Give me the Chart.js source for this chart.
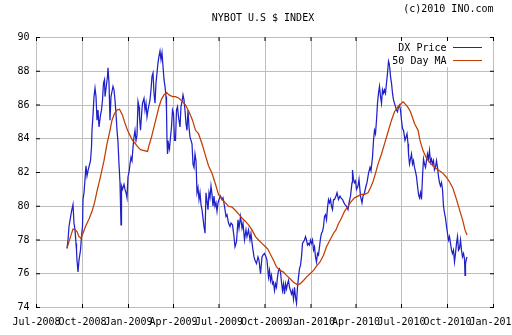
<!DOCTYPE html>
<html>
<head>
<meta charset="utf-8">
<title>NYBOT U.S $ INDEX</title>
<script src="https://cdn.jsdelivr.net/npm/chart.js@4/dist/chart.umd.min.js"></script>
<style>
    html, body { margin: 0; padding: 0; background: #fff; }
</style>
</head>
<body>
<canvas id="myChart" width="512" height="335"></canvas>
<script>
"use strict";

// quarter marks on the time axis
const tickDates = ['2008-07-01', '2008-10-01', '2009-01-01', '2009-04-01', '2009-07-01', '2009-10-01',
    '2010-01-01', '2010-04-01', '2010-07-01', '2010-10-01', '2011-01-01'];
const tickLabels = ['Jul-2008', 'Oct-2008', 'Jan-2009', 'Apr-2009', 'Jul-2009', 'Oct-2009',
    'Jan-2010', 'Apr-2010', 'Jul-2010', 'Oct-2010', 'Jan-2011'];

// DX price
const priceDates = [
    '2008-08-31', '2008-09-02', '2008-09-04', '2008-09-09', '2008-09-12', '2008-09-14', '2008-09-16', '2008-09-18',
    '2008-09-19', '2008-09-20', '2008-09-22', '2008-09-24', '2008-09-27', '2008-09-29', '2008-10-01', '2008-10-02',
    '2008-10-04', '2008-10-06', '2008-10-08', '2008-10-10', '2008-10-12', '2008-10-17', '2008-10-19', '2008-10-20',
    '2008-10-22', '2008-10-24', '2008-10-26', '2008-10-28', '2008-10-30', '2008-11-01', '2008-11-03', '2008-11-06',
    '2008-11-08', '2008-11-10', '2008-11-12', '2008-11-14', '2008-11-15', '2008-11-18', '2008-11-20', '2008-11-21',
    '2008-11-23', '2008-11-25', '2008-11-27', '2008-11-29', '2008-12-01', '2008-12-03', '2008-12-05', '2008-12-07',
    '2008-12-09', '2008-12-11', '2008-12-13', '2008-12-15', '2008-12-17', '2008-12-18', '2008-12-20', '2008-12-23',
    '2008-12-25', '2008-12-27', '2008-12-29', '2008-12-31',
    '2009-01-02', '2009-01-04', '2009-01-06', '2009-01-08', '2009-01-10', '2009-01-12', '2009-01-14', '2009-01-16',
    '2009-01-18', '2009-01-20', '2009-01-22', '2009-01-23', '2009-01-25', '2009-01-27', '2009-01-29', '2009-02-01',
    '2009-02-03', '2009-02-05', '2009-02-07', '2009-02-09', '2009-02-11', '2009-02-13', '2009-02-15', '2009-02-17',
    '2009-02-19', '2009-02-21', '2009-02-23', '2009-02-25', '2009-02-27', '2009-03-01', '2009-03-03', '2009-03-05',
    '2009-03-07', '2009-03-09', '2009-03-11', '2009-03-13', '2009-03-15', '2009-03-17', '2009-03-18', '2009-03-19',
    '2009-03-20', '2009-03-22', '2009-03-24', '2009-03-26', '2009-03-28', '2009-03-30', '2009-04-01', '2009-04-03',
    '2009-04-05', '2009-04-07', '2009-04-09', '2009-04-11', '2009-04-14', '2009-04-16', '2009-04-18', '2009-04-20',
    '2009-04-22', '2009-04-24', '2009-04-26', '2009-04-28', '2009-04-30', '2009-05-02', '2009-05-04', '2009-05-06',
    '2009-05-08', '2009-05-10', '2009-05-12', '2009-05-14', '2009-05-16', '2009-05-18', '2009-05-20', '2009-05-22',
    '2009-05-24', '2009-05-26', '2009-05-28', '2009-05-30', '2009-06-01', '2009-06-03', '2009-06-05', '2009-06-07',
    '2009-06-09', '2009-06-11', '2009-06-13', '2009-06-15', '2009-06-17', '2009-06-19', '2009-06-21', '2009-06-23',
    '2009-06-25', '2009-06-27', '2009-06-29', '2009-07-01', '2009-07-04', '2009-07-07', '2009-07-09', '2009-07-12',
    '2009-07-15', '2009-07-17', '2009-07-20', '2009-07-23', '2009-07-25', '2009-07-28', '2009-07-31', '2009-08-02',
    '2009-08-05', '2009-08-08', '2009-08-10', '2009-08-13', '2009-08-16', '2009-08-18', '2009-08-21', '2009-08-24',
    '2009-08-26', '2009-08-29', '2009-09-01', '2009-09-03', '2009-09-06', '2009-09-09', '2009-09-11', '2009-09-14',
    '2009-09-17', '2009-09-19', '2009-09-22', '2009-09-25', '2009-09-27', '2009-09-30', '2009-10-03', '2009-10-05',
    '2009-10-08', '2009-10-10', '2009-10-12', '2009-10-14', '2009-10-16', '2009-10-18', '2009-10-20', '2009-10-22',
    '2009-10-24', '2009-10-26', '2009-10-28', '2009-10-30', '2009-11-01', '2009-11-03', '2009-11-05', '2009-11-07',
    '2009-11-09', '2009-11-11', '2009-11-13', '2009-11-15', '2009-11-17', '2009-11-19', '2009-11-21', '2009-11-23',
    '2009-11-25', '2009-11-27', '2009-11-29', '2009-12-01', '2009-12-03', '2009-12-05', '2009-12-07', '2009-12-09',
    '2009-12-11', '2009-12-13', '2009-12-15', '2009-12-17', '2009-12-19', '2009-12-21', '2009-12-23', '2009-12-25',
    '2009-12-27', '2009-12-29', '2009-12-31',
    '2010-01-02', '2010-01-04', '2010-01-06', '2010-01-08', '2010-01-10', '2010-01-12', '2010-01-14', '2010-01-16',
    '2010-01-18', '2010-01-20', '2010-01-22', '2010-01-24', '2010-01-26', '2010-01-28', '2010-01-30', '2010-02-01',
    '2010-02-03', '2010-02-05', '2010-02-07', '2010-02-09', '2010-02-11', '2010-02-13', '2010-02-15', '2010-02-17',
    '2010-02-20', '2010-02-22', '2010-02-25', '2010-02-28', '2010-03-02', '2010-03-05', '2010-03-08', '2010-03-10',
    '2010-03-13', '2010-03-16', '2010-03-18', '2010-03-21', '2010-03-24', '2010-03-25', '2010-03-27', '2010-03-29',
    '2010-03-31', '2010-04-02', '2010-04-05', '2010-04-07', '2010-04-10', '2010-04-13', '2010-04-15', '2010-04-18',
    '2010-04-21', '2010-04-23', '2010-04-26', '2010-04-29', '2010-05-01', '2010-05-04', '2010-05-06', '2010-05-08',
    '2010-05-10', '2010-05-12', '2010-05-14', '2010-05-16', '2010-05-18', '2010-05-20', '2010-05-22', '2010-05-24',
    '2010-05-26', '2010-05-28', '2010-05-30', '2010-06-01', '2010-06-03', '2010-06-05', '2010-06-07', '2010-06-09',
    '2010-06-11', '2010-06-13', '2010-06-15', '2010-06-17', '2010-06-19', '2010-06-21', '2010-06-23', '2010-06-25',
    '2010-06-27', '2010-06-29', '2010-07-01', '2010-07-03', '2010-07-05', '2010-07-08', '2010-07-10', '2010-07-12',
    '2010-07-14', '2010-07-15', '2010-07-17', '2010-07-19', '2010-07-21', '2010-07-23', '2010-07-25', '2010-07-27',
    '2010-07-29', '2010-07-31', '2010-08-02', '2010-08-04', '2010-08-06', '2010-08-08', '2010-08-10', '2010-08-12',
    '2010-08-14', '2010-08-16', '2010-08-18', '2010-08-20', '2010-08-22', '2010-08-24', '2010-08-26', '2010-08-28',
    '2010-08-30', '2010-09-01', '2010-09-03', '2010-09-05', '2010-09-07', '2010-09-09', '2010-09-11', '2010-09-13',
    '2010-09-15', '2010-09-17', '2010-09-19', '2010-09-21', '2010-09-23', '2010-09-25', '2010-09-27', '2010-09-29',
    '2010-10-01', '2010-10-03', '2010-10-05', '2010-10-07', '2010-10-09', '2010-10-11', '2010-10-13', '2010-10-15',
    '2010-10-17', '2010-10-19', '2010-10-21', '2010-10-23', '2010-10-25', '2010-10-27', '2010-10-29', '2010-10-31',
    '2010-11-02', '2010-11-04', '2010-11-05', '2010-11-06', '2010-11-08', '2010-11-09'
];
const priceValues = [
    77.5, 78.0, 78.8, 79.7, 80.1, 79.0, 78.6, 77.8,
    77.4, 76.8, 76.1, 76.8, 77.4, 78.2, 78.8, 80.4,
    80.8, 81.6, 82.4, 81.8, 82.1, 82.7, 83.5, 84.5,
    85.4, 86.5, 87.0, 86.5, 85.1, 85.7, 84.7, 85.4,
    85.7, 86.3, 87.3, 87.5, 86.5, 87.2, 87.7, 88.2,
    87.3, 85.1, 86.5, 86.8, 87.1, 86.9, 86.3, 85.5,
    84.5, 83.8, 82.5, 81.4, 78.9, 81.2, 81.0, 81.3,
    81.0, 80.8, 80.5, 81.75,
    82.0, 82.5, 82.9, 82.7, 83.5, 84.1, 84.5, 83.9,
    84.2, 86.2, 85.9, 85.3, 84.5, 85.4, 86.1, 86.4,
    85.7, 86.1, 85.3, 85.7, 86.0, 86.3, 86.9, 87.7,
    87.9, 86.7, 86.1, 87.3, 87.9, 88.5, 88.9, 89.2,
    88.7, 89.1, 88.3, 87.5, 87.1, 86.5, 85.7, 83.9,
    83.1, 83.7, 83.4, 84.1, 84.7, 85.7, 85.5, 83.9,
    83.9, 85.7, 85.9, 85.3, 84.7, 85.9, 86.2, 86.6,
    86.3, 85.7, 84.9, 84.5, 85.7, 84.7, 84.1, 83.9,
    83.7, 82.5, 82.3, 83.1, 82.7, 80.8, 81.1, 80.4,
    80.8, 80.1, 79.8, 79.3, 78.8, 78.4, 80.8, 80.3,
    79.8, 80.8, 80.5, 81.2, 80.7, 80.0, 80.6, 80.0,
    80.2, 79.7, 80.2, 80.4, 80.6, 80.4, 80.5, 80.0,
    79.4, 79.5, 79.0, 78.8, 79.0, 78.9, 78.2, 77.6,
    77.9, 79.2, 78.7, 79.4, 78.7, 79.0, 78.0, 78.6,
    78.2, 78.6, 78.0, 78.4, 77.6, 77.0, 76.8, 76.6,
    77.0, 76.8, 76.0, 77.0, 77.1, 77.2, 77.0, 76.8,
    75.8, 76.2, 75.6, 75.9, 75.4, 75.5, 75.0, 75.4,
    75.2, 75.8, 76.2, 76.3, 76.1, 75.5, 75.0, 75.4,
    74.8, 75.4, 75.1, 75.4, 75.6, 75.2, 75.0, 74.8,
    75.0, 74.5, 75.2, 74.6, 74.25, 75.2, 75.8, 76.3,
    76.5, 77.0, 77.8, 77.9, 78.0, 78.2, 78.0, 77.7,
    77.8, 77.7, 78.0,
    77.8, 78.0, 77.4, 77.6, 77.0, 76.7, 77.2, 77.1,
    77.6, 78.1, 78.4, 78.5, 78.8, 79.4, 79.5, 79.2,
    79.9, 80.4, 80.2, 80.4, 80.0, 79.8, 80.4, 80.4,
    80.6, 80.8, 80.4, 80.6, 80.5, 80.4, 80.2, 80.1,
    80.0, 79.8, 80.2, 80.6, 81.4, 82.15, 81.6, 81.4,
    81.5, 81.0, 81.2, 81.6, 80.6, 80.2, 80.6, 80.8,
    81.2, 81.4, 81.95, 82.3, 82.1, 82.9, 83.9, 84.5,
    84.3, 85.1, 86.1, 86.7, 87.1, 86.5, 86.1, 86.9,
    86.7, 86.9, 86.7, 87.3, 87.9, 88.6, 88.4, 87.7,
    87.3, 86.7, 86.3, 86.1, 85.9, 85.7, 85.6, 85.9,
    86.0, 85.7, 85.1, 84.6, 84.5, 83.9, 84.1, 84.3,
    83.7, 83.1, 82.5, 82.8, 83.1, 82.5, 82.7, 82.3,
    82.05, 81.75, 81.2, 80.7, 80.5, 80.8, 80.4, 81.75,
    82.8, 82.5, 82.3, 82.7, 83.1, 82.8, 83.3, 82.6,
    82.8, 82.5, 82.7, 82.15, 82.3, 82.7, 82.3, 81.75,
    81.4, 81.2, 81.4, 81.0, 80.0, 79.6, 79.3, 78.8,
    78.4, 78.0, 78.2, 77.8, 77.4, 77.2, 77.4, 76.7,
    77.2, 77.8, 78.2, 77.4, 77.5, 78.0, 77.4, 77.0,
    77.2, 76.9, 75.9, 76.6, 76.9, 77.0
];

// 50 day moving average
const maDates = [
    '2008-08-31', '2008-09-07', '2008-09-12', '2008-09-16', '2008-09-20', '2008-09-24', '2008-09-28', '2008-10-02',
    '2008-10-07', '2008-10-14', '2008-10-20', '2008-10-25', '2008-10-30', '2008-11-06', '2008-11-13', '2008-11-19',
    '2008-11-25', '2008-11-29', '2008-12-04', '2008-12-09', '2008-12-14', '2008-12-20', '2008-12-24', '2008-12-30',
    '2009-01-04', '2009-01-09', '2009-01-15', '2009-01-20', '2009-01-25', '2009-02-01', '2009-02-08', '2009-02-11',
    '2009-02-16', '2009-02-21', '2009-02-26', '2009-03-03', '2009-03-08', '2009-03-13', '2009-03-18', '2009-03-23',
    '2009-03-30', '2009-04-05', '2009-04-12', '2009-04-19', '2009-04-25', '2009-05-02', '2009-05-09', '2009-05-15',
    '2009-05-21', '2009-05-28', '2009-06-04', '2009-06-10', '2009-06-17', '2009-06-24', '2009-06-30', '2009-07-07',
    '2009-07-14', '2009-07-20', '2009-07-27', '2009-08-03', '2009-08-09', '2009-08-16', '2009-08-23', '2009-08-29',
    '2009-09-05', '2009-09-12', '2009-09-18', '2009-09-25', '2009-10-02', '2009-10-07', '2009-10-11', '2009-10-18',
    '2009-10-24', '2009-10-31', '2009-11-07', '2009-11-13', '2009-11-20', '2009-11-27', '2009-12-05', '2009-12-10',
    '2009-12-17', '2009-12-23', '2009-12-30', '2010-01-06', '2010-01-12', '2010-01-19', '2010-01-26', '2010-02-01',
    '2010-02-08', '2010-02-15', '2010-02-20', '2010-02-24', '2010-03-03', '2010-03-09', '2010-03-16', '2010-03-23',
    '2010-03-29', '2010-04-05', '2010-04-12', '2010-04-18', '2010-04-25', '2010-04-30', '2010-05-05', '2010-05-10',
    '2010-05-15', '2010-05-22', '2010-05-28', '2010-06-04', '2010-06-11', '2010-06-17', '2010-06-24', '2010-07-01',
    '2010-07-04', '2010-07-13', '2010-07-19', '2010-07-27', '2010-08-03', '2010-08-07', '2010-08-13', '2010-08-19',
    '2010-08-26', '2010-09-02', '2010-09-08', '2010-09-15', '2010-09-22', '2010-09-28', '2010-10-05', '2010-10-12',
    '2010-10-18', '2010-10-25', '2010-11-01', '2010-11-05', '2010-11-09'
];
const maValues = [
    77.5, 78.2, 78.65, 78.6, 78.5, 78.2, 78.1, 78.4,
    78.8, 79.25, 79.7, 80.2, 80.9, 81.75, 82.7, 83.7,
    84.5, 85.1, 85.5, 85.7, 85.75, 85.4, 85.0, 84.5,
    84.2, 83.9, 83.7, 83.5, 83.35, 83.3, 83.25, 83.6,
    84.1, 84.7, 85.3, 85.9, 86.35, 86.6, 86.75, 86.6,
    86.5, 86.5, 86.4, 86.2, 86.0, 85.6, 85.1, 84.5,
    84.3, 83.7, 83.0, 82.4, 81.95, 81.3, 80.7, 80.4,
    80.2, 80.0, 79.95, 79.75, 79.55, 79.3, 79.1, 78.9,
    78.6, 78.2, 78.0, 77.8, 77.6, 77.45, 77.2, 76.8,
    76.4, 76.2, 76.1, 75.9, 75.7, 75.5, 75.35, 75.4,
    75.6, 75.8, 76.0, 76.2, 76.45, 76.7, 77.1, 77.6,
    78.0, 78.4, 78.6, 78.9, 79.3, 79.7, 80.0, 80.3,
    80.5, 80.6, 80.7, 80.7, 80.8, 81.1, 81.45, 81.95,
    82.5, 83.1, 83.7, 84.4, 85.1, 85.6, 85.9, 86.1,
    86.2, 85.9, 85.6, 84.9, 84.5, 83.9, 83.3, 82.9,
    82.6, 82.4, 82.25, 82.1, 81.95, 81.75, 81.45, 81.05,
    80.5, 79.8, 79.1, 78.6, 78.3
];

const yMin = 74;
const yMax = 90;
const yStep = 2;

const monoFont = "'DejaVu Sans Mono', monospace";
const gridColor = '#bebebe';
const priceColor = '#2020c8';
const maColor = '#c43c00';

Chart.defaults.font.family = monoFont;
Chart.defaults.font.size = 10;
Chart.defaults.color = '#000';

function toPoints(dates, values) {
    return dates.map((d, i) => ({ x: Date.parse(d), y: values[i] }));
}

// header texts, legend box inside the plot and the small black ticks on the frame
const chartDecor = {
    id: 'chartDecor',
    afterDatasetsDraw(chart) {
        const { ctx, chartArea: a } = chart;
        ctx.save();
        ctx.fillStyle = '#fff';
        ctx.fillRect(a.right - 103.5, a.top + 0.5, 102, 29);

        const rows = [
            { text: 'DX Price', color: priceColor, y: a.top + 10 },
            { text: '50 Day MA', color: maColor, y: a.top + 23 }
        ];
        ctx.font = '10px ' + monoFont;
        ctx.textAlign = 'right';
        ctx.textBaseline = 'middle';
        ctx.lineWidth = 1;
        rows.forEach(r => {
            ctx.fillStyle = '#000';
            ctx.fillText(r.text, a.right - 47, r.y + 0.5);
            ctx.strokeStyle = r.color;
            ctx.beginPath();
            ctx.moveTo(a.right - 40.5, r.y);
            ctx.lineTo(a.right - 11.5, r.y);
            ctx.stroke();
        });
        ctx.restore();
    },
    afterDraw(chart) {
        const { ctx, chartArea: a, scales: { x, y } } = chart;
        ctx.save();
        ctx.font = '10px ' + monoFont;
        ctx.fillStyle = '#000';
        ctx.textBaseline = 'middle';
        ctx.textAlign = 'right';
        ctx.fillText('(c)2010 INO.com', a.right, 9);
        ctx.textAlign = 'center';
        ctx.fillText('NYBOT U.S $ INDEX', (a.left + a.right) / 2 - 2, 18.5);

        const top = Math.floor(a.top);
        const bottom = Math.ceil(a.bottom);
        const left = Math.floor(a.left);
        const right = Math.ceil(a.right);
        ctx.strokeStyle = '#000';
        ctx.lineWidth = 1;
        ctx.beginPath();
        x.ticks.forEach(t => {
            const p = x.getPixelForValue(t.value);
            ctx.moveTo(p, top);
            ctx.lineTo(p, top + 4);
            ctx.moveTo(p, bottom);
            ctx.lineTo(p, bottom - 4);
        });
        y.ticks.forEach(t => {
            const p = y.getPixelForValue(t.value);
            ctx.moveTo(left, p);
            ctx.lineTo(left + 4, p);
            ctx.moveTo(right, p);
            ctx.lineTo(right - 4, p);
        });
        ctx.stroke();
        ctx.restore();
    }
};

const ctx = document.getElementById('myChart');
const myChart = new Chart(ctx, {
    type: 'line',
    data: {
        datasets: [{
            label: 'DX Price',
            data: toPoints(priceDates, priceValues),
            borderColor: priceColor,
            borderWidth: 1.25,
            pointRadius: 0,
            order: 1
        }, {
            label: '50 Day MA',
            data: toPoints(maDates, maValues),
            borderColor: maColor,
            borderWidth: 1.25,
            pointRadius: 0,
            order: 0
        }]
    },
    options: {
        responsive: false,
        animation: false,
        events: [],
        layout: {
            padding: { top: 37.5, right: 18.5, bottom: 0, left: 0 }
        },
        plugins: {
            legend: { display: false },
            tooltip: { enabled: false }
        },
        scales: {
            x: {
                type: 'linear',
                min: Date.parse(tickDates[0]),
                max: Date.parse(tickDates[tickDates.length - 1]),
                afterBuildTicks: scale => {
                    scale.ticks = tickDates.map(d => ({ value: Date.parse(d) }));
                },
                afterFit: scale => {
                    scale.height = 27.5;
                    scale.paddingLeft = 0;
                    scale.paddingRight = 0;
                },
                ticks: {
                    callback: (value, index) => tickLabels[index],
                    autoSkip: false,
                    maxRotation: 0,
                    padding: 9
                },
                grid: { color: gridColor, drawTicks: false },
                border: { color: gridColor }
            },
            y: {
                min: yMin,
                max: yMax,
                afterFit: scale => {
                    scale.width = 36.5;
                    scale.paddingTop = 0;
                    scale.paddingBottom = 0;
                },
                ticks: { stepSize: yStep, padding: 7 },
                grid: { color: gridColor, drawTicks: false },
                border: { color: gridColor }
            }
        }
    },
    plugins: [chartDecor]
});
</script>
</body>
</html>
